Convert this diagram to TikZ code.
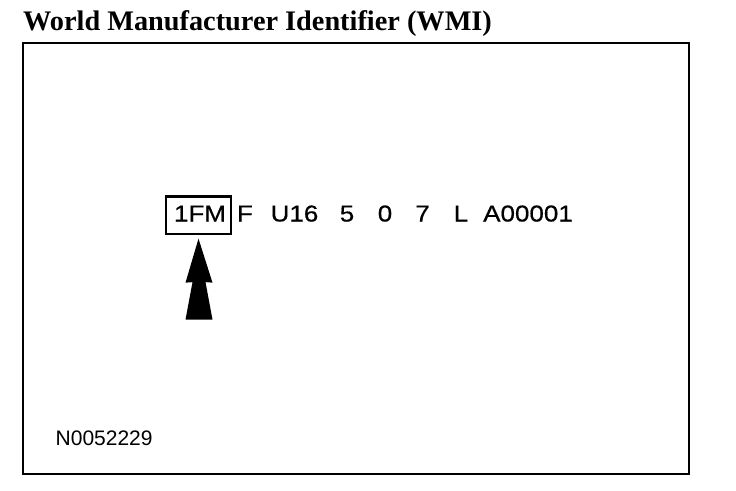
\documentclass[tikz,border=0pt]{standalone}
\usepackage{fontspec}
\setmainfont{Liberation Serif}
\setsansfont{Liberation Sans}
\newfontfamily\vinfont[FakeStretch=1.13,FakeBold=0.6]{Liberation Sans}
\usetikzlibrary{calc}

\begin{document}
\begin{tikzpicture}[
  x=1pt,y=-1pt,
  font=\sffamily,
  ttl/.style={font=\fontsize{28.3}{30}\selectfont\rmfamily\bfseries,anchor=base west,inner sep=0pt},
  vin/.style={font=\fontsize{23}{24}\selectfont\vinfont,anchor=base,inner sep=0pt},
  wmibox/.style={draw,line width=2.2pt,minimum width=65pt,minimum height=37.5pt,inner sep=0pt},
  ref/.style={font=\fontsize{21}{24}\selectfont\sffamily,anchor=base west,inner sep=0pt},
  frame/.style={line width=2.5pt}
]
\useasboundingbox (0,0) rectangle (736,490);

\node[ttl] (title) at (23,30) {World Manufacturer Identifier (WMI)};
\draw[frame] (23,43) rectangle (689,474);

% VIN characters
\node[vin] (wmi) at (200,221.5) {1FM};
\node[vin] (vds) at (245,221.5) {F};
\node[vin] (line) at (294.5,221.5) {U16};
\node[vin] (body) at (347,221.5) {5};
\node[vin] (eng) at (385,221.5) {0};
\node[vin] (chk) at (422.5,221.5) {7};
\node[vin] (plant) at (461,221.5) {L};
\node[vin] (serial) at (528,221.5) {A00001};

\node[wmibox] (wmiframe) at (198.5,215.3) {};

% double arrow head pointing at the WMI
\coordinate (tip) at ($(wmiframe.south)+(0,3.5)$);
\fill (tip) -- ++(-13,44) -- ++(7,-0.5) -- ++(-7,37.5) -- ++(27,0)
  -- ++(-7,-37.5) -- ++(7,0.5) -- cycle;

\node[ref] (fig) at (55.5,445) {N0052229};
\end{tikzpicture}
\end{document}
